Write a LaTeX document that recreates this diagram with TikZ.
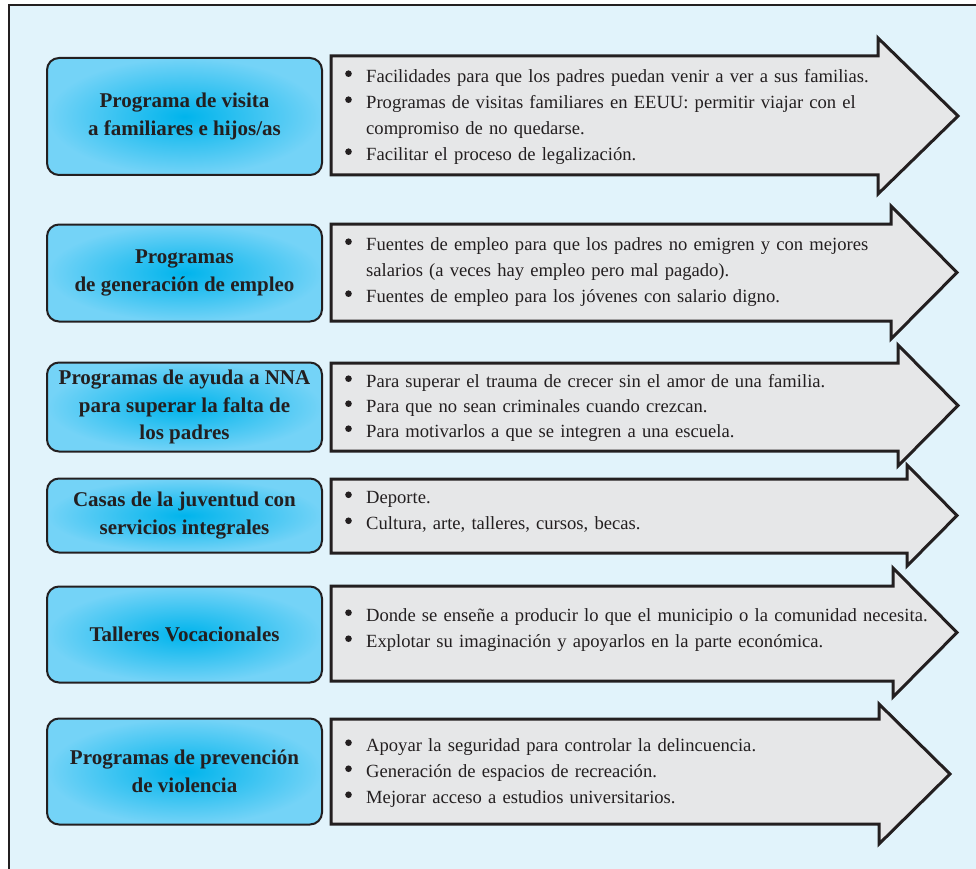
\documentclass[tikz,border=0pt]{standalone}
\usepackage{fontspec}
\setmainfont{Liberation Serif}
\definecolor{framebg}{HTML}{E1F3FB}
\definecolor{inkcolor}{HTML}{231F20}
\definecolor{arrowbg}{HTML}{E6E7E8}
\definecolor{boxinner}{HTML}{00B4EC}
\definecolor{boxouter}{HTML}{74D3F7}
% one bullet line of a list
\newcommand{\itm}[1]{\par\hangindent=29pt\hangafter=1\noindent\makebox[29pt][l]{\hspace{8pt}\raisebox{5.5pt}{\tikz\fill[inkcolor] (0,0) circle (3.3pt);}}#1}
% arrow body: name, top, bottom, head base, head top, head bottom, tip
\newcommand{\rowarrow}[7]{%
  \draw[arrowshape] (331,#2) -- (#4,#2) -- (#4,#5) -- (#7,{(#5+#6)/2})
    -- (#4,#6) -- (#4,#3) -- (331,#3) -- cycle;
  \coordinate (#1) at (331,{(#2+#3)/2});
}
\tikzset{
  titlebox/.style={draw=inkcolor, line width=2pt, rounded corners=12pt,
    inner color=boxinner, outer color=boxouter, minimum width=275pt,
    align=center, text=inkcolor,
    font=\bfseries\fontsize{21}{27.5}\selectfont},
  arrowshape/.style={draw=inkcolor, fill=arrowbg, line width=3pt, line join=miter},
  itemtext/.style={anchor=west, inner sep=0pt, text width=620pt, align=left,
    text=inkcolor, font=\fontsize{18.6}{26}\selectfont}
}

\begin{document}
\begin{tikzpicture}[x=1pt, y=-1pt]
  \useasboundingbox (0,0) rectangle (976,869);
  \clip (0,0) rectangle (976,869);
  \fill[white] (0,0) rectangle (976,869);
  \draw[inkcolor, fill=framebg, line width=2.5pt] (9,5) rectangle (1000,900);

  % === ARROWS ===
  \rowarrow{a1}{56}{175}{878}{38}{194}{958}
  \rowarrow{a2}{224}{321}{891}{206}{339}{957}
  \rowarrow{a3}{363}{451}{898}{345}{466}{958}
  \rowarrow{a4}{479}{553}{907}{465}{566}{957}
  \rowarrow{a5}{586}{681}{893}{568}{697}{957}
  \rowarrow{a6}{719}{824}{879}{704}{844}{950}

  % === TITLE BOXES ===
  \node[titlebox, minimum height=117pt] (t1) at (184.5,116.5)
    {Programa de visita\\a familiares e hijos/as};
  \node[titlebox, minimum height=97pt] (t2) at (184.5,273)
    {Programas\\de generación de empleo};
  \node[titlebox, minimum height=89pt] (t3) at (184.5,407)
    {Programas de ayuda a NNA\\para superar la falta de\\los padres};
  \node[titlebox, minimum height=74pt] (t4) at (184.5,515.5)
    {Casas de la juventud con\\servicios integrales};
  \node[titlebox, minimum height=96pt] (t5) at (184.5,634.5)
    {Talleres Vocacionales};
  \node[titlebox, minimum height=106pt] (t6) at (184.5,771.5)
    {Programas de prevención\\de violencia};

  % === BULLET LISTS ===
  \node[itemtext] (b1) at ([xshift=6pt, yshift=5pt]a1) {%
    \itm{Facilidades para que los padres puedan venir a ver a sus familias.}
    \itm{Programas de visitas familiares en EEUU: permitir viajar con el\newline compromiso de no quedarse.}
    \itm{Facilitar el proceso de legalización.}};
  \node[itemtext] (b2) at ([xshift=6pt, yshift=7pt]a2) {%
    \itm{Fuentes de empleo para que los padres no emigren y con mejores\newline salarios (a veces hay empleo pero mal pagado).}
    \itm{Fuentes de empleo para los jóvenes con salario digno.}};
  \node[itemtext, font=\fontsize{18.6}{25}\selectfont] (b3) at ([xshift=6pt, yshift=5pt]a3) {%
    \itm{Para superar el trauma de crecer sin el amor de una familia.}
    \itm{Para que no sean criminales cuando crezcan.}
    \itm{Para motivarlos a que se integren a una escuela.}};
  \node[itemtext] (b4) at ([xshift=6pt, yshift=11pt]a4) {%
    \itm{Deporte.}
    \itm{Cultura, arte, talleres, cursos, becas.}};
  \node[itemtext] (b5) at ([xshift=6pt, yshift=10pt]a5) {%
    \itm{Donde se enseñe a producir lo que el municipio o la comunidad necesita.}
    \itm{Explotar su imaginación y apoyarlos en la parte económica.}};
  \node[itemtext] (b6) at ([xshift=6pt, yshift=5pt]a6) {%
    \itm{Apoyar la seguridad para controlar la delincuencia.}
    \itm{Generación de espacios de recreación.}
    \itm{Mejorar acceso a estudios universitarios.}};
\end{tikzpicture}
\end{document}
